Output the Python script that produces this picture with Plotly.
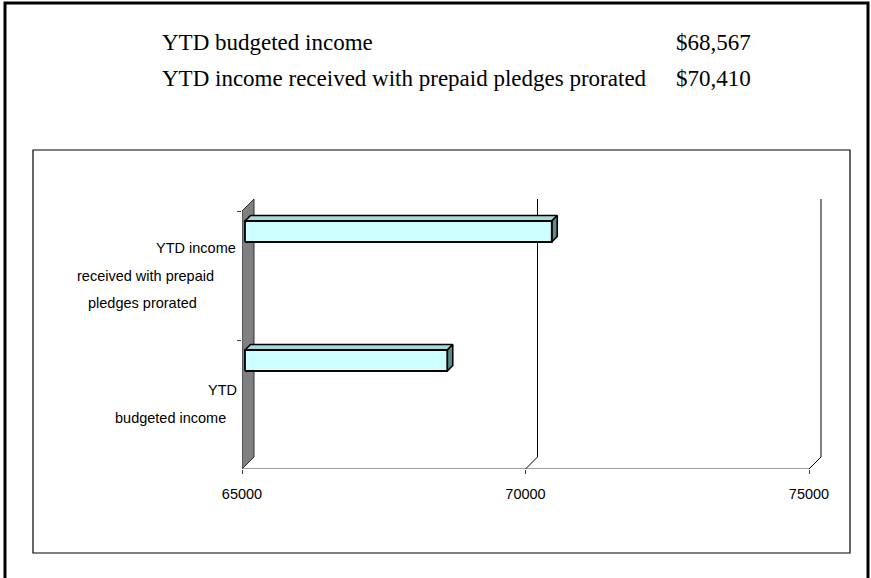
import plotly.graph_objects as go

# ---------------- data ----------------
categories = ["YTD budgeted income", "YTD income received with prepaid pledges prorated"]
category_lines = [["YTD", "budgeted income"],
                  ["YTD income", "received with prepaid", "pledges prorated"]]
values = [68567, 70410]
x_ticks = [65000, 70000, 75000]
x_tick_labels = ["65000", "70000", "75000"]
summary_labels = ["YTD budgeted income", "YTD income received with prepaid pledges prorated"]
summary_values = ["$68,567", "$70,410"]

# ---------------- layout geometry (pixels) ----------------
W, H = 871, 578
X_MIN, X_MAX = 65000, 75000
FRONT_L, FRONT_R = 242, 809          # px of 65000 / 75000 on the front plane
PLOT_R = 826
Y_BOT_PX = 469                         # px of y=-0.5
PX_PER_CAT = 129
PLOT_TOP = 194
PXX = (FRONT_R - FRONT_L) / (X_MAX - X_MIN)
x_range = [X_MIN, X_MIN + (PLOT_R - FRONT_L) / PXX]
y_range = [-0.5, -0.5 + (Y_BOT_PX - PLOT_TOP) / PX_PER_CAT]


def dx(p):
    return p / PXX


def dy(p):
    return p / PX_PER_CAT


DEPTH = 12          # wall depth (px)
BAR_SHIFT = 3       # bar offset into depth (px)
BAR_DEPTH = 5.5     # bar 3D depth (px)
BAR_LO, BAR_HI = 0.2597, 0.4225   # bar front face relative to category index

fig = go.Figure()


def poly(xs, ys, fill, line_color="black", width=1.0):
    fig.add_trace(go.Scatter(x=xs + [xs[0]], y=ys + [ys[0]], mode="lines",
                             fill="toself", fillcolor=fill,
                             line=dict(color=line_color, width=width),
                             hoverinfo="skip", showlegend=False))


def line(xs, ys, color="black", width=1.0):
    fig.add_trace(go.Scatter(x=xs, y=ys, mode="lines",
                             line=dict(color=color, width=width),
                             hoverinfo="skip", showlegend=False))


# left wall
y_lo, y_hi = -0.5, -0.5 + len(categories)
poly([X_MIN, X_MIN + dx(DEPTH), X_MIN + dx(DEPTH), X_MIN],
     [y_lo, y_lo + dy(DEPTH), y_hi + dy(DEPTH), y_hi], "#808080", "#303030", 1)

# gridlines on back wall + floor diagonals
for v in x_ticks[1:]:
    line([v, v + dx(DEPTH), v + dx(DEPTH)],
         [y_lo, y_lo + dy(DEPTH), y_hi + dy(DEPTH)], "black", 1)

# front axis line
line([X_MIN, X_MAX], [y_lo, y_lo], "#404040", 1.2)

# bars (3D look)
for i, v in enumerate(values):
    x0 = X_MIN + dx(BAR_SHIFT)
    x1 = v + dx(BAR_SHIFT)
    yb = i + BAR_LO
    yt = i + BAR_HI
    ddx, ddy = dx(BAR_DEPTH), dy(BAR_DEPTH)
    # top face
    poly([x0, x0 + ddx, x1 + ddx, x1], [yt, yt + ddy, yt + ddy, yt], "#A6D9D9", "black", 1.6)
    # side face
    poly([x1, x1 + ddx, x1 + ddx, x1], [yt, yt + ddy, yb + ddy, yb], "#5E8C8C", "black", 1.6)
    # front face
    poly([x0, x1, x1, x0], [yb, yb, yt, yt], "#CCFFFF", "black", 1.8)

annotations = []
# category labels (line by line, as wrapped in the original)
cat_line_pos = [
    [(222, 390), (170, 418)],
    [(196, 248), (145, 276), (142, 303)],
]
for lines, pos in zip(category_lines, cat_line_pos):
    for txt, (px, py) in zip(lines, pos):
        annotations.append(dict(x=px / W, y=1 - py / H, xref="paper", yref="paper",
                                text=txt, showarrow=False, xanchor="center", yanchor="middle",
                                font=dict(family="Liberation Sans, Arial", size=14.5, color="black")))

# summary text at top
sum_rows_y = [42, 78]
for lab, val, py in zip(summary_labels, summary_values, sum_rows_y):
    annotations.append(dict(x=160 / W, y=1 - py / H, xref="paper", yref="paper", text=lab,
                            showarrow=False, xanchor="left", yanchor="middle",
                            font=dict(family="Liberation Serif, Times New Roman", size=23, color="black")))
    annotations.append(dict(x=674 / W, y=1 - py / H, xref="paper", yref="paper", text=val,
                            showarrow=False, xanchor="left", yanchor="middle",
                            font=dict(family="Liberation Serif, Times New Roman", size=23, color="black")))

shapes = [
    # outer frame
    dict(type="rect", xref="paper", yref="paper", x0=5 / W, x1=868 / W, y0=-0.05, y1=1 - 3 / H,
         line=dict(color="black", width=3)),
    # inner chart box
    dict(type="rect", xref="paper", yref="paper", x0=33 / W, x1=850 / W,
         y0=1 - 553 / H, y1=1 - 150 / H, line=dict(color="black", width=1.2)),
]

fig.update_layout(
    width=W, height=H,
    margin=dict(l=0, r=0, t=0, b=0, pad=0, autoexpand=False),
    paper_bgcolor="white", plot_bgcolor="rgba(0,0,0,0)",
    showlegend=False,
    annotations=annotations,
    shapes=shapes,
    xaxis=dict(domain=[FRONT_L / W, PLOT_R / W], range=x_range,
               tickvals=x_ticks, ticktext=x_tick_labels,
               ticks="outside", ticklen=4, tickcolor="#404040", tickwidth=1,
               showgrid=False, zeroline=False, showline=False, automargin=False,
               ticklabelstandoff=8,
               tickfont=dict(family="Liberation Sans, Arial", size=14.5, color="black"),
               fixedrange=True),
    yaxis=dict(domain=[1 - Y_BOT_PX / H, 1 - PLOT_TOP / H], range=y_range,
               tickvals=[0.5, 1.5], ticks="outside", ticklen=4, tickcolor="#404040",
               showticklabels=False, showgrid=False, zeroline=False, showline=False,
               automargin=False, fixedrange=True),
)

fig.write_html("out.html", config={"displayModeBar": False},
               post_script="document.body.style.margin='0';document.body.style.overflow='hidden';")
